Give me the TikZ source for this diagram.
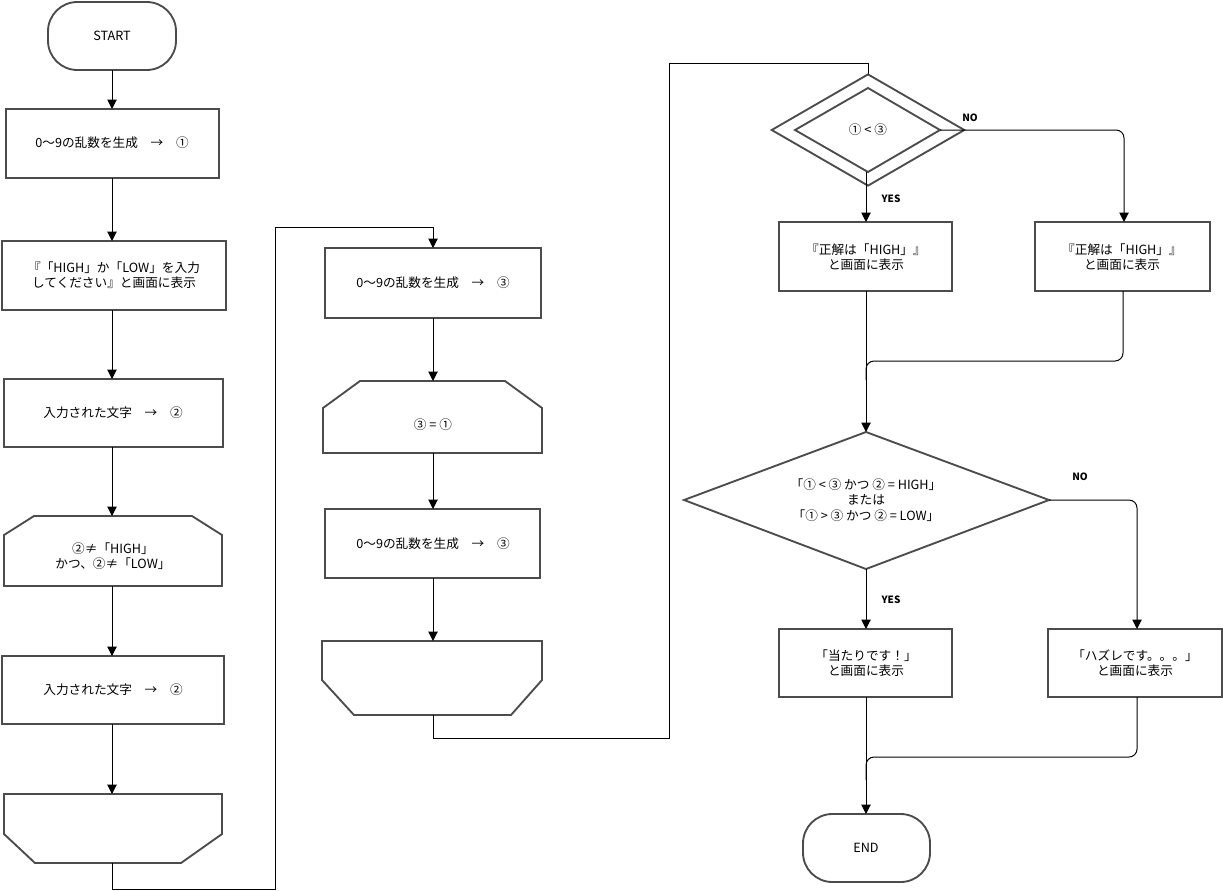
\documentclass[tikz,border=0pt]{standalone}
\usepackage{fontspec}
\setmainfont{Noto Sans CJK JP}
\usetikzlibrary{shapes.geometric,shapes.misc,arrows.meta}
\begin{document}
\begin{tikzpicture}[x=0.75pt,y=-0.75pt,
  every node/.style={font=\fontsize{9.5pt}{11.5pt}\selectfont,align=center},
  box/.style={draw=black!70,line width=1.4pt,fill=white},
  conn/.style={draw=black,line width=0.75pt},
  arr/.style={conn,-{Triangle[length=7pt,width=7pt]}},
  lbl/.style={font=\fontsize{7.5pt}{9pt}\selectfont\bfseries}]
\useasboundingbox (0,0) rectangle (1223,890);
% left column
\draw[box,rounded corners=22pt] (48,2) rectangle (176,70);
\node (start) at (112,36) {START};
\draw[box] (6,109) rectangle (219,178); \node (b1) at (112,143) {0〜9の乱数を生成　→　①};
\draw[box] (2,241) rectangle (226,310); \node (b2) at (114,275) {『「HIGH」か「LOW」を入力\\してください』と画面に表示};
\draw[box] (4,379) rectangle (223,447); \node (b3) at (113,413) {入力された文字　→　②};
\draw[box] (4,535) -- (34,516) -- (192,516) -- (222,535) -- (222,586) -- (4,586) -- cycle;
\node (l1) at (113,556) {②≠「HIGH」\\かつ、②≠「LOW」};
\draw[box] (2,656) rectangle (224,724); \node (b5) at (113,690) {入力された文字　→　②};
\draw[box] (4,794) -- (222,794) -- (222,834) -- (181,863) -- (35,863) -- (4,834) -- cycle;
\coordinate (e1) at (112,863);
\draw[arr] (112,70) -- (112,109);
\draw[arr] (112,178) -- (112,241);
\draw[arr] (112,310) -- (112,379);
\draw[arr] (112,447) -- (112,516);
\draw[arr] (112,586) -- (112,656);
\draw[arr] (112,724) -- (112,794);
% middle column
\draw[box] (325,248) rectangle (541,318); \node (b6) at (433,283) {0〜9の乱数を生成　→　③};
\draw[box] (323,408) -- (360,381) -- (505,381) -- (542,408) -- (542,453) -- (323,453) -- cycle;
\node (l2) at (433,425) {③ = ①};
\draw[box] (325,509) rectangle (540,578); \node (b7) at (433,544) {0〜9の乱数を生成　→　③};
\draw[box] (322,641) -- (542,641) -- (542,680) -- (511,715) -- (354,715) -- (322,680) -- cycle;
\draw[conn] (e1) -- (112,889) -- (275,889) -- (275,227) -- (433,227);
\draw[arr] (433,227) -- (433,248);
\draw[arr] (433,318) -- (433,381);
\draw[arr] (433,453) -- (433,509);
\draw[arr] (433,578) -- (433,641);
\draw[conn] (433,715) -- (433,738) -- (669,738) -- (669,63) -- (868,63);
\draw[arr] (868,63) -- (868,88);
% right column
\node[diamond,box,minimum width=145pt*0.75/0.75,inner sep=0pt,minimum height=84pt,aspect=1.7] (d1) at (868,130) {};
\draw[box] (868,88) -- (940,130) -- (868,172) -- (795,130) -- cycle;
\node at (868,130) {① < ③};
\draw[box] (779,222) rectangle (952,291); \node (b8) at (866,257) {『正解は「HIGH」』\\と画面に表示};
\draw[box] (1035,222) rectangle (1210,291); \node (b9) at (1122,257) {『正解は「HIGH」』\\と画面に表示};
\draw[arr] (866,172) -- (866,222);
\node[lbl] at (891,199) {YES};
\draw[arr,rounded corners=6pt] (940,130) -- (1124,130) -- (1124,222);
\node[lbl] at (970,118) {NO};
\draw[box] (866,432) -- (1049,500) -- (866,569) -- (684,500) -- cycle;
\node (d2) at (866,500) {「① < ③ かつ ② = HIGH」\\または\\「① > ③ かつ ② = LOW」};
\draw[arr] (866,291) -- (866,432);
\draw[conn,rounded corners=6pt] (1123,291) -- (1123,361) -- (866,361) -- (866,380);
\draw[box] (779,629) rectangle (952,697); \node (b10) at (866,663) {「当たりです！」\\と画面に表示};
\draw[box] (1048,629) rectangle (1222,697); \node (b11) at (1135,663) {「ハズレです。。。」\\と画面に表示};
\draw[arr] (866,569) -- (866,629);
\node[lbl] at (891,600) {YES};
\draw[arr,rounded corners=6pt] (1049,500) -- (1137,500) -- (1137,629);
\node[lbl] at (1080,477) {NO};
\draw[box,rounded corners=22pt] (803,814) rectangle (930,882);
\node (end) at (866,848) {END};
\draw[arr] (866,697) -- (866,814);
\draw[conn,rounded corners=6pt] (1137,697) -- (1137,757) -- (866,757) -- (866,780);
\end{tikzpicture}
\end{document}
